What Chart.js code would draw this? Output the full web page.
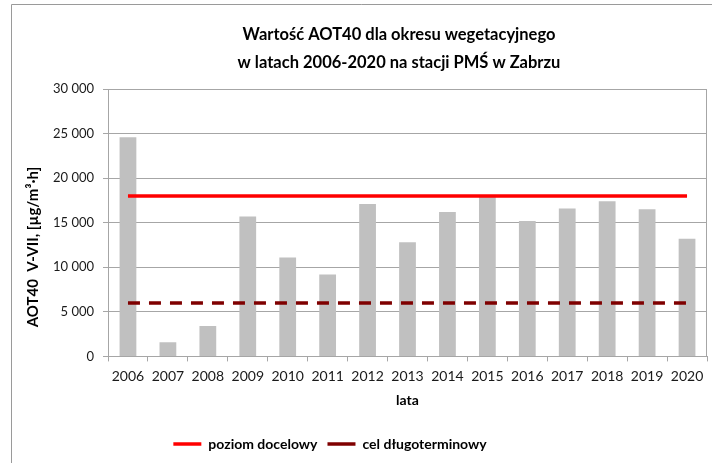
<!DOCTYPE html>
<html>
<head>
<meta charset="utf-8">
<script src="https://cdn.jsdelivr.net/npm/chart.js@4/dist/chart.umd.min.js"></script>
<style>
  html, body { margin: 0; padding: 0; background: #fff; }
  #wrap { position: relative; width: 712px; height: 463px; }
</style>
</head>
<body>
<div id="wrap"><canvas id="c"></canvas></div>
<script>
// ---- data ----
const years = ['2006','2007','2008','2009','2010','2011','2012','2013','2014','2015','2016','2017','2018','2019','2020'];
const aot40Values = [24600, 1600, 3400, 15700, 11100, 9200, 17100, 12800, 16200, 17950, 15200, 16600, 17400, 16500, 13200];
const targetLevel = [18000, 18000, 18000, 18000, 18000, 18000, 18000, 18000, 18000, 18000, 18000, 18000, 18000, 18000, 18000];
const longTermGoal = [6000, 6000, 6000, 6000, 6000, 6000, 6000, 6000, 6000, 6000, 6000, 6000, 6000, 6000, 6000];
const titleLines = ['Wartość AOT40 dla okresu wegetacyjnego', 'w latach 2006-2020 na stacji PMŚ w Zabrzu'];
const yAxisTitle = 'AOT40  V-VII, [\u00B5g/m\u00B3\u00B7h]';
const xAxisTitle = 'lata';
const seriesLabels = ['poziom docelowy', 'cel długoterminowy'];

const FONT = 'Lato, "Open Sans", "DejaVu Sans", sans-serif';
const GRID = '#a6a6a6';

const decor = {
  id: 'decor',
  beforeDraw(chart) {
    const ctx = chart.ctx;
    ctx.save();
    ctx.fillStyle = '#fff';
    ctx.fillRect(0, 0, chart.width, chart.height);
    ctx.strokeStyle = '#9a9a9a';
    ctx.lineWidth = 1;
    ctx.beginPath();
    ctx.moveTo(11.5, chart.height);
    ctx.lineTo(11.5, 4.5);
    ctx.lineTo(chart.width, 4.5);
    ctx.stroke();
    ctx.restore();
  },
  afterLayout(chart) {
    const t = chart.titleBlock;
    if (t) { t.left = 91; t.right = 707; }
    const lg = chart.legend;
    if (lg) { lg.left = 0; lg.right = 660; }
  },
  afterDraw(chart) {
    const ctx = chart.ctx;
    const a = chart.chartArea;
    ctx.save();
    ctx.strokeStyle = GRID;
    ctx.lineWidth = 1;
    ctx.beginPath();
    ctx.moveTo(Math.round(a.right) - 0.5, a.top);
    ctx.lineTo(Math.round(a.right) - 0.5, a.bottom);
    ctx.stroke();
    // y axis title
    ctx.translate(33, 247);
    ctx.rotate(-Math.PI / 2);
    ctx.fillStyle = '#000';
    ctx.font = 'bold 15px ' + FONT;
    ctx.textAlign = 'center';
    ctx.textBaseline = 'middle';
    ctx.fillText(yAxisTitle, 0, 0);
    ctx.restore();
  }
};

new Chart(document.getElementById('c'), {
  data: {
    labels: years,
    datasets: [
      {
        type: 'line', label: seriesLabels[0], data: targetLevel,
        borderColor: '#ff0000', backgroundColor: '#ff0000', borderWidth: 3.5,
        pointRadius: 0, order: 0
      },
      {
        type: 'line', label: seriesLabels[1], data: longTermGoal,
        borderColor: '#7f0000', backgroundColor: '#7f0000', borderWidth: 3.5,
        borderDash: [12, 9], pointRadius: 0, order: 0
      },
      {
        type: 'bar', label: 'AOT40', data: aot40Values,
        backgroundColor: '#c0c0c0', borderWidth: 0,
        categoryPercentage: 1, barPercentage: 0.42, order: 1
      }
    ]
  },
  options: {
    responsive: true,
    maintainAspectRatio: false,
    animation: false,
    devicePixelRatio: 1,
    layout: { padding: { left: 50, right: 5, top: 21, bottom: 2 } },
    plugins: {
      tooltip: { enabled: false },
      title: {
        display: true, text: titleLines, color: '#000',
        font: { family: FONT, size: 16.5, weight: 'bold', lineHeight: 28 / 16.5 },
        padding: { top: 0, bottom: 12 }
      },
      legend: {
        display: true, position: 'bottom',
        labels: {
          filter: (item) => item.datasetIndex < 2,
          usePointStyle: true, pointStyle: 'line', pointStyleWidth: 28,
          color: '#000', padding: 10, boxHeight: 14,
          font: { family: FONT, size: 14, weight: 'bold' }
        }
      }
    },
    scales: {
      x: {
        offset: true,
        grid: { display: true, offset: true, drawOnChartArea: false, color: GRID, tickLength: 5 },
        border: { display: true, color: GRID },
        ticks: { color: '#1a1a1a', padding: 7, font: { family: FONT, size: 14 }, maxRotation: 0 },
        title: {
          display: true, text: xAxisTitle, color: '#000',
          font: { family: FONT, size: 14, weight: 'bold' },
          padding: { top: 0, bottom: 18 }
        }
      },
      y: {
        min: 0, max: 30000,
        afterFit(scale) { scale.width = 58; },
        grid: { color: GRID, tickLength: 5 },
        border: { display: true, color: GRID },
        ticks: {
          stepSize: 5000, color: '#1a1a1a', padding: 9,
          font: { family: FONT, size: 13 },
          callback: (v) => String(v).replace(/\B(?=(\d{3})+(?!\d))/g, ' ')
        }
      }
    }
  },
  plugins: [decor]
});
</script>
</body>
</html>
